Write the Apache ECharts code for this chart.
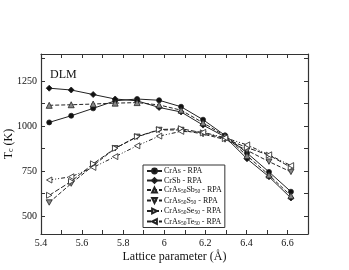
<!DOCTYPE html>
<html><head><meta charset="utf-8">
<script src="https://cdn.jsdelivr.net/npm/echarts@6/dist/echarts.min.js"></script>
<style>html,body{margin:0;padding:0;background:#fff}#c{width:349px;height:270px}</style>
</head><body><div id="c"></div>
<script>
const lattice = [5.44, 5.547, 5.654, 5.761, 5.868, 5.975, 6.082, 6.189, 6.296, 6.403, 6.51, 6.617];
const crAs     = [1020, 1057, 1098, 1140, 1150, 1143, 1107, 1035, 948, 850, 745, 635];
const crSb     = [1210, 1200, 1175, 1150, 1140, 1103, 1078, 1005, 940, 818, 718, 600];
const crAsSb   = [1115, 1118, 1122, 1127, 1130, 1117, 1088, 1018, 945, 835, 728, 612];
const crAsS    = [575, 680, 780, 876, 940, 978, 978, 955, 925, 865, 802, 745];
const crAsSe   = [615, 692, 790, 876, 941, 980, 985, 962, 930, 880, 838, 770];
const crAsTe   = [700, 718, 770, 830, 890, 944, 970, 965, 935, 895, 840, 780];
const seriesNames = ['CrAs - RPA', 'CrSb - RPA', 'CrAs50Sb50 - RPA', 'CrAs50S50 - RPA', 'CrAs50Se50 - RPA', 'CrAs50Te50 - RPA'];
const xTickLabels = [5.4, 5.6, 5.8, 6.0, 6.2, 6.4, 6.6];
const xMinorTicks = [5.4, 5.5, 5.6, 5.7, 5.8, 5.9, 6.0, 6.1, 6.2, 6.3, 6.4, 6.5, 6.6, 6.7];
const yTickLabels = [500, 750, 1000, 1250];
const yMinorTicks = [500, 625, 750, 875, 1000, 1125, 1250, 1375];

const F = 'Liberation Serif';
const ink = '#222';
function pairs(ys){ return ys.map((y,i)=>[lattice[i], y]); }
function fmtName(n){ return n.replace(/(As|Sb|S|Se|Te)50/g, '$1{sub|50}'); }

const styles = [
  {symbol:'circle', size:5, fill:'#111', type:'solid'},
  {symbol:'diamond', size:6, fill:'#111', type:'solid'},
  {symbol:'triangle', size:6, fill:'#888', type:[4,2]},
  {symbol:'path://M0,0 L10,0 L5,9 Z', size:6, fill:'#888', type:[4,2]},
  {symbol:'path://M0,0 L9,5 L0,10 Z', size:6, fill:'#fff', type:[5,2]},
  {symbol:'path://M9,0 L0,5 L9,10 Z', size:6, fill:'#fff', type:[4,2,1,2,1,2]}
];
const datas = [crAs, crSb, crAsSb, crAsS, crAsSe, crAsTe];

const chart = echarts.init(document.getElementById('c'), null, {renderer:'canvas'});
chart.setOption({
  animation:false,
  textStyle:{fontFamily:F},
  title:{text:'DLM', left:50, top:69, padding:0, textStyle:{fontFamily:F, fontSize:12, fontWeight:'normal', color:'#111'}},
  grid:{left:41, right:41, top:54, bottom:36, outerBoundsMode:'none', containLabel:false},
  legend:{
    orient:'vertical', left:143, top:165, itemGap:1.5, itemWidth:15, itemHeight:6,
    padding:[2,3,1,3], borderColor:'#333', borderWidth:1, backgroundColor:'#fff',
    data:seriesNames,
    formatter:n=>fmtName(n),
    textStyle:{fontFamily:F, fontSize:8, color:'#111', padding:[0,0,0,-3],
      rich:{sub:{fontFamily:F, fontSize:5.5, verticalAlign:'bottom', padding:[4,0,0,0]}}}
  },
  xAxis:[{
    type:'value', min:5.4, max:6.7, interval:0.1,
    name:'Lattice parameter (Å)', nameLocation:'middle', nameGap:17, nameMoveOverlap:false,
    nameTextStyle:{fontFamily:F, fontSize:12, color:'#111'},
    axisLine:{lineStyle:{color:'#333', width:1.2}},
    axisTick:{inside:true, length:4, customValues:xMinorTicks, lineStyle:{color:'#333'}},
    axisLabel:{customValues:xTickLabels, margin:4, fontFamily:F, fontSize:10, color:'#111',
      formatter:v=>String(Math.round(v*10)/10)},
    splitLine:{show:false}
  },{
    type:'value', min:5.4, max:6.7, interval:0.1, position:'top',
    axisLine:{show:true, lineStyle:{color:'#333', width:1.2}},
    axisTick:{inside:true, length:4, customValues:xMinorTicks, lineStyle:{color:'#333'}},
    axisLabel:{show:false}, splitLine:{show:false}
  }],
  yAxis:[{
    type:'value', min:400, max:1400,
    name:'T{sub|c} (K)', nameLocation:'middle', nameGap:26, nameRotate:90, nameMoveOverlap:false,
    nameTextStyle:{fontFamily:F, fontSize:12, color:'#111',
      rich:{sub:{fontFamily:F, fontSize:8, verticalAlign:'bottom', padding:[5,0,0,0]}}},
    axisLine:{show:true, lineStyle:{color:'#333', width:1.2}},
    axisTick:{show:true, inside:true, length:4, customValues:yMinorTicks, lineStyle:{color:'#333'}},
    axisLabel:{customValues:yTickLabels, margin:4, fontFamily:F, fontSize:10, color:'#111',
      formatter:v=>String(v)},
    splitLine:{show:false}
  },{
    type:'value', min:400, max:1400, position:'right',
    axisLine:{show:true, lineStyle:{color:'#333', width:1.2}},
    axisTick:{show:true, inside:true, length:4, customValues:yMinorTicks, lineStyle:{color:'#333'}},
    axisLabel:{show:false}, splitLine:{show:false}
  }],
  series: datas.map((d,i)=>({
    name:seriesNames[i], type:'line', data:pairs(d),
    symbol:styles[i].symbol, symbolSize:styles[i].size, symbolKeepAspect:true,
    itemStyle:{color:styles[i].fill, borderColor:ink, borderWidth:0.8},
    lineStyle:{color:ink, width:1, type:styles[i].type},
    z: 2
  }))
});
</script></body></html>
